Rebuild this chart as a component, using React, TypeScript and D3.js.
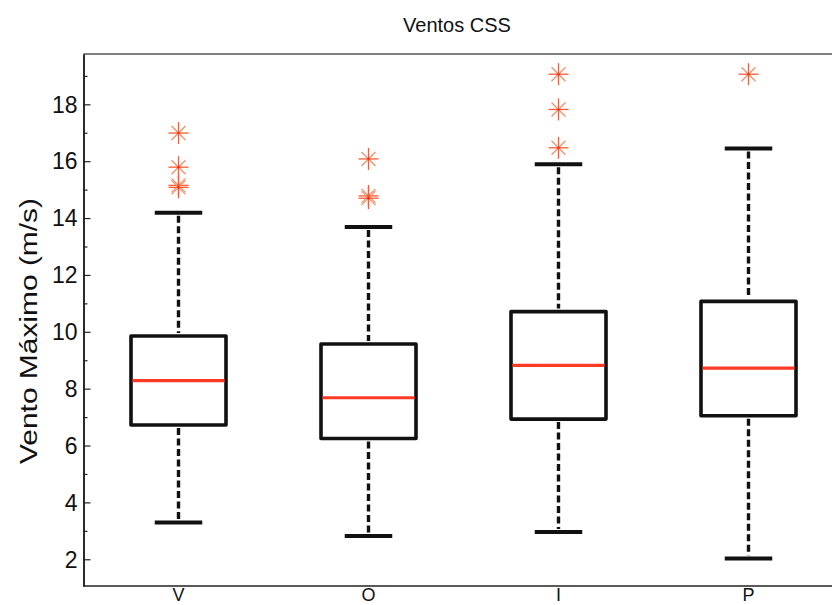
import React, { useEffect, useRef } from 'react';
import * as d3 from 'd3';

const categories = ['V', 'O', 'I', 'P'];
const whiskerLow = [3.29, 2.82, 2.96, 2.03];
const q1 = [6.72, 6.25, 6.93, 7.05];
const medians = [8.28, 7.68, 8.82, 8.72];
const q3 = [9.85, 9.57, 10.71, 11.07];
const whiskerHigh = [14.19, 13.69, 15.89, 16.45];
const outliers = [
  [16.99, 15.79, 15.15, 15.08],
  [16.08, 14.78, 14.7],
  [19.06, 17.82, 16.47],
  [19.06],
];
const majorTicks = [2, 4, 6, 8, 10, 12, 14, 16, 18];
const minorTicks = [3, 5, 7, 9, 11, 13, 15, 17, 19];

const App = () => {
  const svgRef = useRef<SVGSVGElement>(null);

  useEffect(() => {
    const svg = d3.select(svgRef.current);
    svg.selectAll('*').remove(); // Clear previous contents

    const width = 832;
    const height = 605;
    const font = 'Liberation Sans, Arial, sans-serif';

    const x = d3.scaleLinear().domain([0.5, 4.5]).range([83.5, 843.5]);
    const y = d3.scaleLinear().domain([1.06, 19.77]).range([586, 54]);

    svg.attr('width', width).attr('height', height);
    svg.append('rect').attr('width', width).attr('height', height).attr('fill', '#fff');

    // frame lines
    svg.append('line')
      .attr('x1', x(0.5)).attr('x2', width).attr('y1', y(19.77)).attr('y2', y(19.77))
      .attr('stroke', '#555').attr('stroke-width', 1.3);
    svg.append('line')
      .attr('x1', x(0.5)).attr('x2', width).attr('y1', y(1.06)).attr('y2', y(1.06))
      .attr('stroke', '#222').attr('stroke-width', 1.6);

    // y axis, ticks inward
    const yAxis = svg.append('g').attr('transform', `translate(${x(0.5)},0)`);
    yAxis.call(
      d3.axisRight(y).tickValues(majorTicks).tickSize(7).tickSizeOuter(0).tickFormat(() => '')
    );
    yAxis.append('g').call(
      d3.axisRight(y).tickValues(minorTicks).tickSize(4).tickSizeOuter(0).tickFormat(() => '')
    );
    yAxis.selectAll('path.domain').attr('stroke', '#222').attr('stroke-width', 1.6);
    yAxis.selectAll('.tick line').attr('stroke', '#222').attr('stroke-width', 1.2);

    svg.append('g')
      .selectAll('text')
      .data(majorTicks)
      .enter()
      .append('text')
      .attr('x', x(0.5) - 6)
      .attr('y', d => y(d))
      .attr('dy', '0.36em')
      .attr('text-anchor', 'end')
      .attr('font-family', font)
      .attr('font-size', 23)
      .attr('fill', '#111')
      .text(d => d);

    // x labels, squeezed against the bottom edge
    svg.append('g')
      .selectAll('text')
      .data(categories)
      .enter()
      .append('text')
      .attr('x', (d, i) => x(i + 1))
      .attr('y', 601)
      .attr('text-anchor', 'middle')
      .attr('font-family', font)
      .attr('font-size', 18)
      .attr('fill', '#111')
      .text(d => d);

    // title and y label
    svg.append('text')
      .attr('x', 457).attr('y', 32)
      .attr('text-anchor', 'middle')
      .attr('font-family', font).attr('font-size', 20).attr('fill', '#111')
      .text('Ventos CSS');

    svg.append('text')
      .attr('transform', 'translate(37,331) rotate(-90)')
      .attr('text-anchor', 'middle')
      .attr('font-family', font).attr('font-size', 23).attr('fill', '#111')
      .attr('textLength', 266).attr('lengthAdjust', 'spacingAndGlyphs')
      .text('Vento Máximo (m/s)');

    const boxW = x(1.25) - x(1);
    const capW = x(1.125) - x(1);
    const g = svg.append('g');

    categories.forEach((c, i) => {
      const cx = x(i + 1);
      // whiskers
      g.append('line')
        .attr('x1', cx).attr('x2', cx).attr('y1', y(whiskerHigh[i]) + 3).attr('y2', y(q3[i]) - 3)
        .attr('stroke', '#111').attr('stroke-width', 3.4).attr('stroke-dasharray', '7,3.5');
      g.append('line')
        .attr('x1', cx).attr('x2', cx).attr('y1', y(q1[i]) + 3).attr('y2', y(whiskerLow[i]) - 3)
        .attr('stroke', '#111').attr('stroke-width', 3.4).attr('stroke-dasharray', '7,3.5');
      // caps
      [whiskerHigh[i], whiskerLow[i]].forEach(v => {
        g.append('line')
          .attr('x1', cx - capW).attr('x2', cx + capW).attr('y1', y(v)).attr('y2', y(v))
          .attr('stroke', '#111').attr('stroke-width', 4);
      });
      // box
      g.append('rect')
        .attr('x', cx - boxW).attr('y', y(q3[i]))
        .attr('width', boxW * 2).attr('height', y(q1[i]) - y(q3[i]))
        .attr('fill', 'none').attr('stroke', '#111').attr('stroke-width', 3.6)
        .attr('stroke-linejoin', 'round');
      // median
      g.append('line')
        .attr('x1', cx - boxW + 1.5).attr('x2', cx + boxW - 1.5)
        .attr('y1', y(medians[i])).attr('y2', y(medians[i]))
        .attr('stroke', '#ff3b26').attr('stroke-width', 3.2);
      // outliers as asterisks
      outliers[i].forEach(v => {
        const oy = y(v);
        const s = 10;
        const d = 7;
        const star = g.append('g').attr('stroke', '#ff5a30').attr('stroke-width', 1.3);
        star.append('line').attr('x1', cx - s).attr('x2', cx + s).attr('y1', oy).attr('y2', oy);
        star.append('line').attr('x1', cx).attr('x2', cx).attr('y1', oy - s - 1).attr('y2', oy + s + 1);
        star.append('line').attr('x1', cx - d).attr('x2', cx + d).attr('y1', oy - d).attr('y2', oy + d)
          .attr('stroke', '#f0906a');
        star.append('line').attr('x1', cx - d).attr('x2', cx + d).attr('y1', oy + d).attr('y2', oy - d)
          .attr('stroke', '#f0906a');
        g.append('circle').attr('cx', cx).attr('cy', oy).attr('r', 1.3).attr('fill', '#ff2a10');
      });
    });
  }, []);

  return (
    <svg
      ref={svgRef}
      width={832}
      height={605}
      style={{ position: 'absolute', left: 0, top: 0 }}
    ></svg>
  );
};

export default App;
